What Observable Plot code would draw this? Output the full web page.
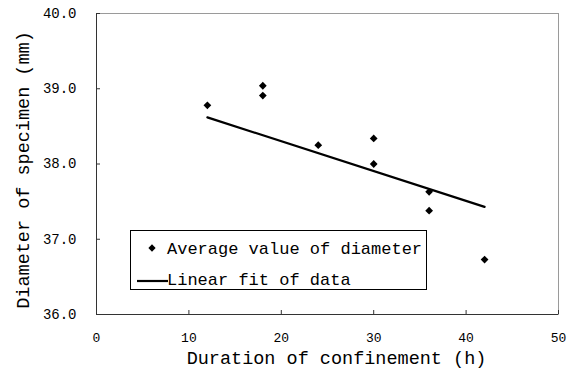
<!DOCTYPE html>
<html>
<head>
<meta charset="utf-8">
<script src="https://cdn.jsdelivr.net/npm/d3@7"></script>
<script src="https://cdn.jsdelivr.net/npm/@observablehq/plot@0.6"></script>
<style>
  html, body { margin: 0; padding: 0; background: #fff; }
  #wrap { position: relative; width: 574px; height: 371px; }
  #legend { position: absolute; left: 130px; top: 230px; width: 295px; height: 58px;
    border: 1px solid #000; background: #fff; font-family: "Liberation Mono", monospace; font-size: 17px; color: #000; }
  #legend svg { position: absolute; left: 0; top: 0; }
</style>
</head>
<body>
<div id="wrap"></div>
<script>
// Data
const hours = [12, 18, 18, 24, 30, 30, 36, 36, 42];
const diameter = [38.78, 39.04, 38.91, 38.25, 38.34, 38.00, 37.63, 37.38, 36.73];
const fitHours = [12, 42];
const fitDiameter = [38.62, 37.43];
const xTicks = [0, 10, 20, 30, 40, 50];
const yTicks = [36, 37, 38, 39, 40];
const xTitle = "Duration of confinement (h)";
const yTitle = "Diameter of specimen (mm)";
const legendLabels = ["Average value of diameter", "Linear fit of data"];

const points = hours.map((h, i) => ({h, d: diameter[i]}));
const fit = fitHours.map((h, i) => ({h, d: fitDiameter[i]}));

const W = 574, H = 371, mL = 96, mR = 16, mT = 13, mB = 57;
const frameW = W - mL - mR, frameH = H - mT - mB;

const chart = Plot.plot({
  width: W, height: H,
  marginLeft: mL, marginRight: mR, marginTop: mT, marginBottom: mB,
  style: {fontFamily: "Liberation Mono, monospace", background: "#fff", color: "#000"},
  x: {domain: [0, 50]},
  y: {domain: [36, 40]},
  marks: [
    Plot.frame({stroke: "#9a9a9a"}),
    Plot.tickX(xTicks, {x: d => d, insetTop: frameH - 4, stroke: "#333"}),
    Plot.tickY(yTicks, {y: d => d, insetRight: frameW - 4, stroke: "#333"}),
    Plot.ruleX([0], {stroke: "#333"}),
    Plot.ruleY([36], {stroke: "#333"}),
    Plot.axisX(xTicks, {tickSize: 0, tickPadding: 18, fontSize: 13, label: null}),
    Plot.axisY(yTicks, {tickSize: 0, tickPadding: 20, fontSize: 14, label: null, tickFormat: d => d.toFixed(1)}),
    Plot.line(fit, {x: "h", y: "d", stroke: "#000", strokeWidth: 2.2}),
    Plot.dot(points, {x: "h", y: "d", symbol: "diamond2", r: 3.5, fill: "#000", stroke: "none"}),
    Plot.text([xTitle], {frameAnchor: "bottom", dx: 9, dy: 44, fontSize: 18.5, textAnchor: "middle", lineAnchor: "middle", fill: "#000"}),
    Plot.text([yTitle], {frameAnchor: "left", rotate: -90, dx: -73, dy: 6, fontSize: 18.5, textAnchor: "middle", lineAnchor: "middle", fill: "#000"})
  ]
});
document.getElementById("wrap").appendChild(chart);

// Legend overlay
const legend = document.createElement("div");
legend.id = "legend";
const svg = d3.create("svg").attr("width", 295).attr("height", 58)
  .style("font-family", "Liberation Mono, monospace").style("font-size", "17px");
svg.append("path").attr("d", d3.symbol(d3.symbolDiamond2, 34)()).attr("transform", "translate(21,17)").attr("fill", "#000");
svg.append("text").attr("x", 36).attr("y", 23).text(legendLabels[0]);
svg.append("line").attr("x1", 6).attr("x2", 37).attr("y1", 50).attr("y2", 50).attr("stroke", "#000").attr("stroke-width", 2.2);
svg.append("text").attr("x", 36).attr("y", 54).text(legendLabels[1]);
legend.appendChild(svg.node());
document.getElementById("wrap").appendChild(legend);
</script>
</body>
</html>
